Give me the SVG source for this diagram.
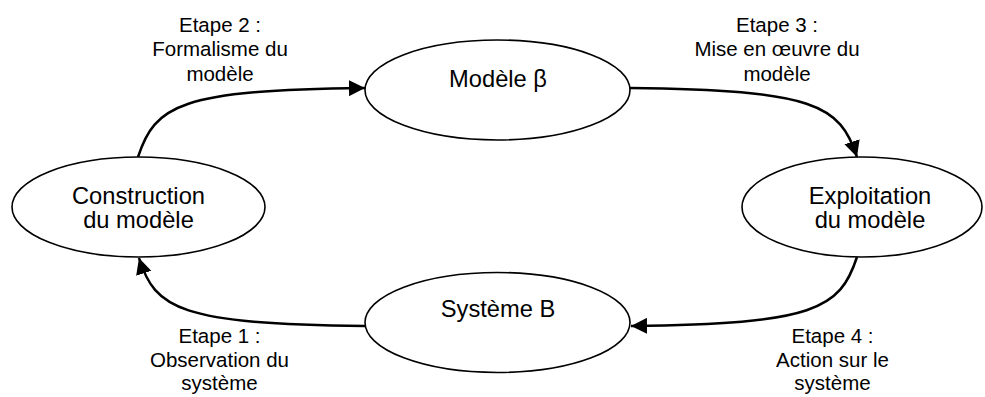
<svg xmlns="http://www.w3.org/2000/svg" width="985" height="397" viewBox="0 0 985 397">
<defs>
<style>
.node{fill:#fff;stroke:#000;stroke-width:1.6}
.nt{font-family:"Liberation Sans",Arial,sans-serif;font-size:23.7px;fill:#000;text-anchor:middle}
.lt{font-family:"Liberation Sans",Arial,sans-serif;font-size:20.5px;fill:#000;text-anchor:middle}
.edge{fill:none;stroke:#000;stroke-width:2.5;marker-end:url(#arr)}
</style>
<marker id="arr" markerUnits="userSpaceOnUse" markerWidth="17" markerHeight="16" refX="16" refY="8" orient="auto" viewBox="0 0 17 16">
<path d="M0,0 L16,8 L0,16 z" fill="#000"/>
</marker>
</defs>
<rect width="985" height="397" fill="#fff"/>
<g id="connectors">
<path class="edge" d="M138,157 C155,105 180,90 365,88"/>
<path class="edge" d="M630,88 C815,90 840,105 857,157"/>
<path class="edge" d="M857,257 C840,309 815,324 631,326"/>
<path class="edge" d="M365,326 C180,324 155,309 139,258"/>
</g>
<g id="node-modele">
<ellipse class="node" cx="497.5" cy="90" rx="132.5" ry="50"/>
<text class="nt" x="498" y="86.5">Modèle β</text>
</g>
<g id="node-construction">
<ellipse class="node" cx="138.5" cy="207" rx="126.5" ry="50"/>
<text class="nt" x="138.5" y="203.5">Construction</text>
<text class="nt" x="138.5" y="227.5">du modèle</text>
</g>
<g id="node-exploitation">
<ellipse class="node" cx="862" cy="207" rx="120" ry="50"/>
<text class="nt" x="870" y="203.5">Exploitation</text>
<text class="nt" x="870" y="227.5">du modèle</text>
</g>
<g id="node-systeme">
<ellipse class="node" cx="497.5" cy="322.5" rx="132.5" ry="50"/>
<text class="nt" x="498" y="316.5">Système B</text>
</g>
<g id="labels">
<text class="lt" x="220" y="31.5">Etape 2 :</text>
<text class="lt" x="220" y="56">Formalisme du</text>
<text class="lt" x="220" y="80.5">modèle</text>
<text class="lt" x="777" y="31.5">Etape 3 :</text>
<text class="lt" x="777" y="56">Mise en œuvre du</text>
<text class="lt" x="777" y="80.5">modèle</text>
<text class="lt" x="219.5" y="342.5">Etape 1 :</text>
<text class="lt" x="219.5" y="366.5">Observation du</text>
<text class="lt" x="219.5" y="390">système</text>
<text class="lt" x="832.5" y="342.5">Etape 4 :</text>
<text class="lt" x="832.5" y="366.5">Action sur le</text>
<text class="lt" x="832.5" y="390">système</text>
</g>
</svg>
